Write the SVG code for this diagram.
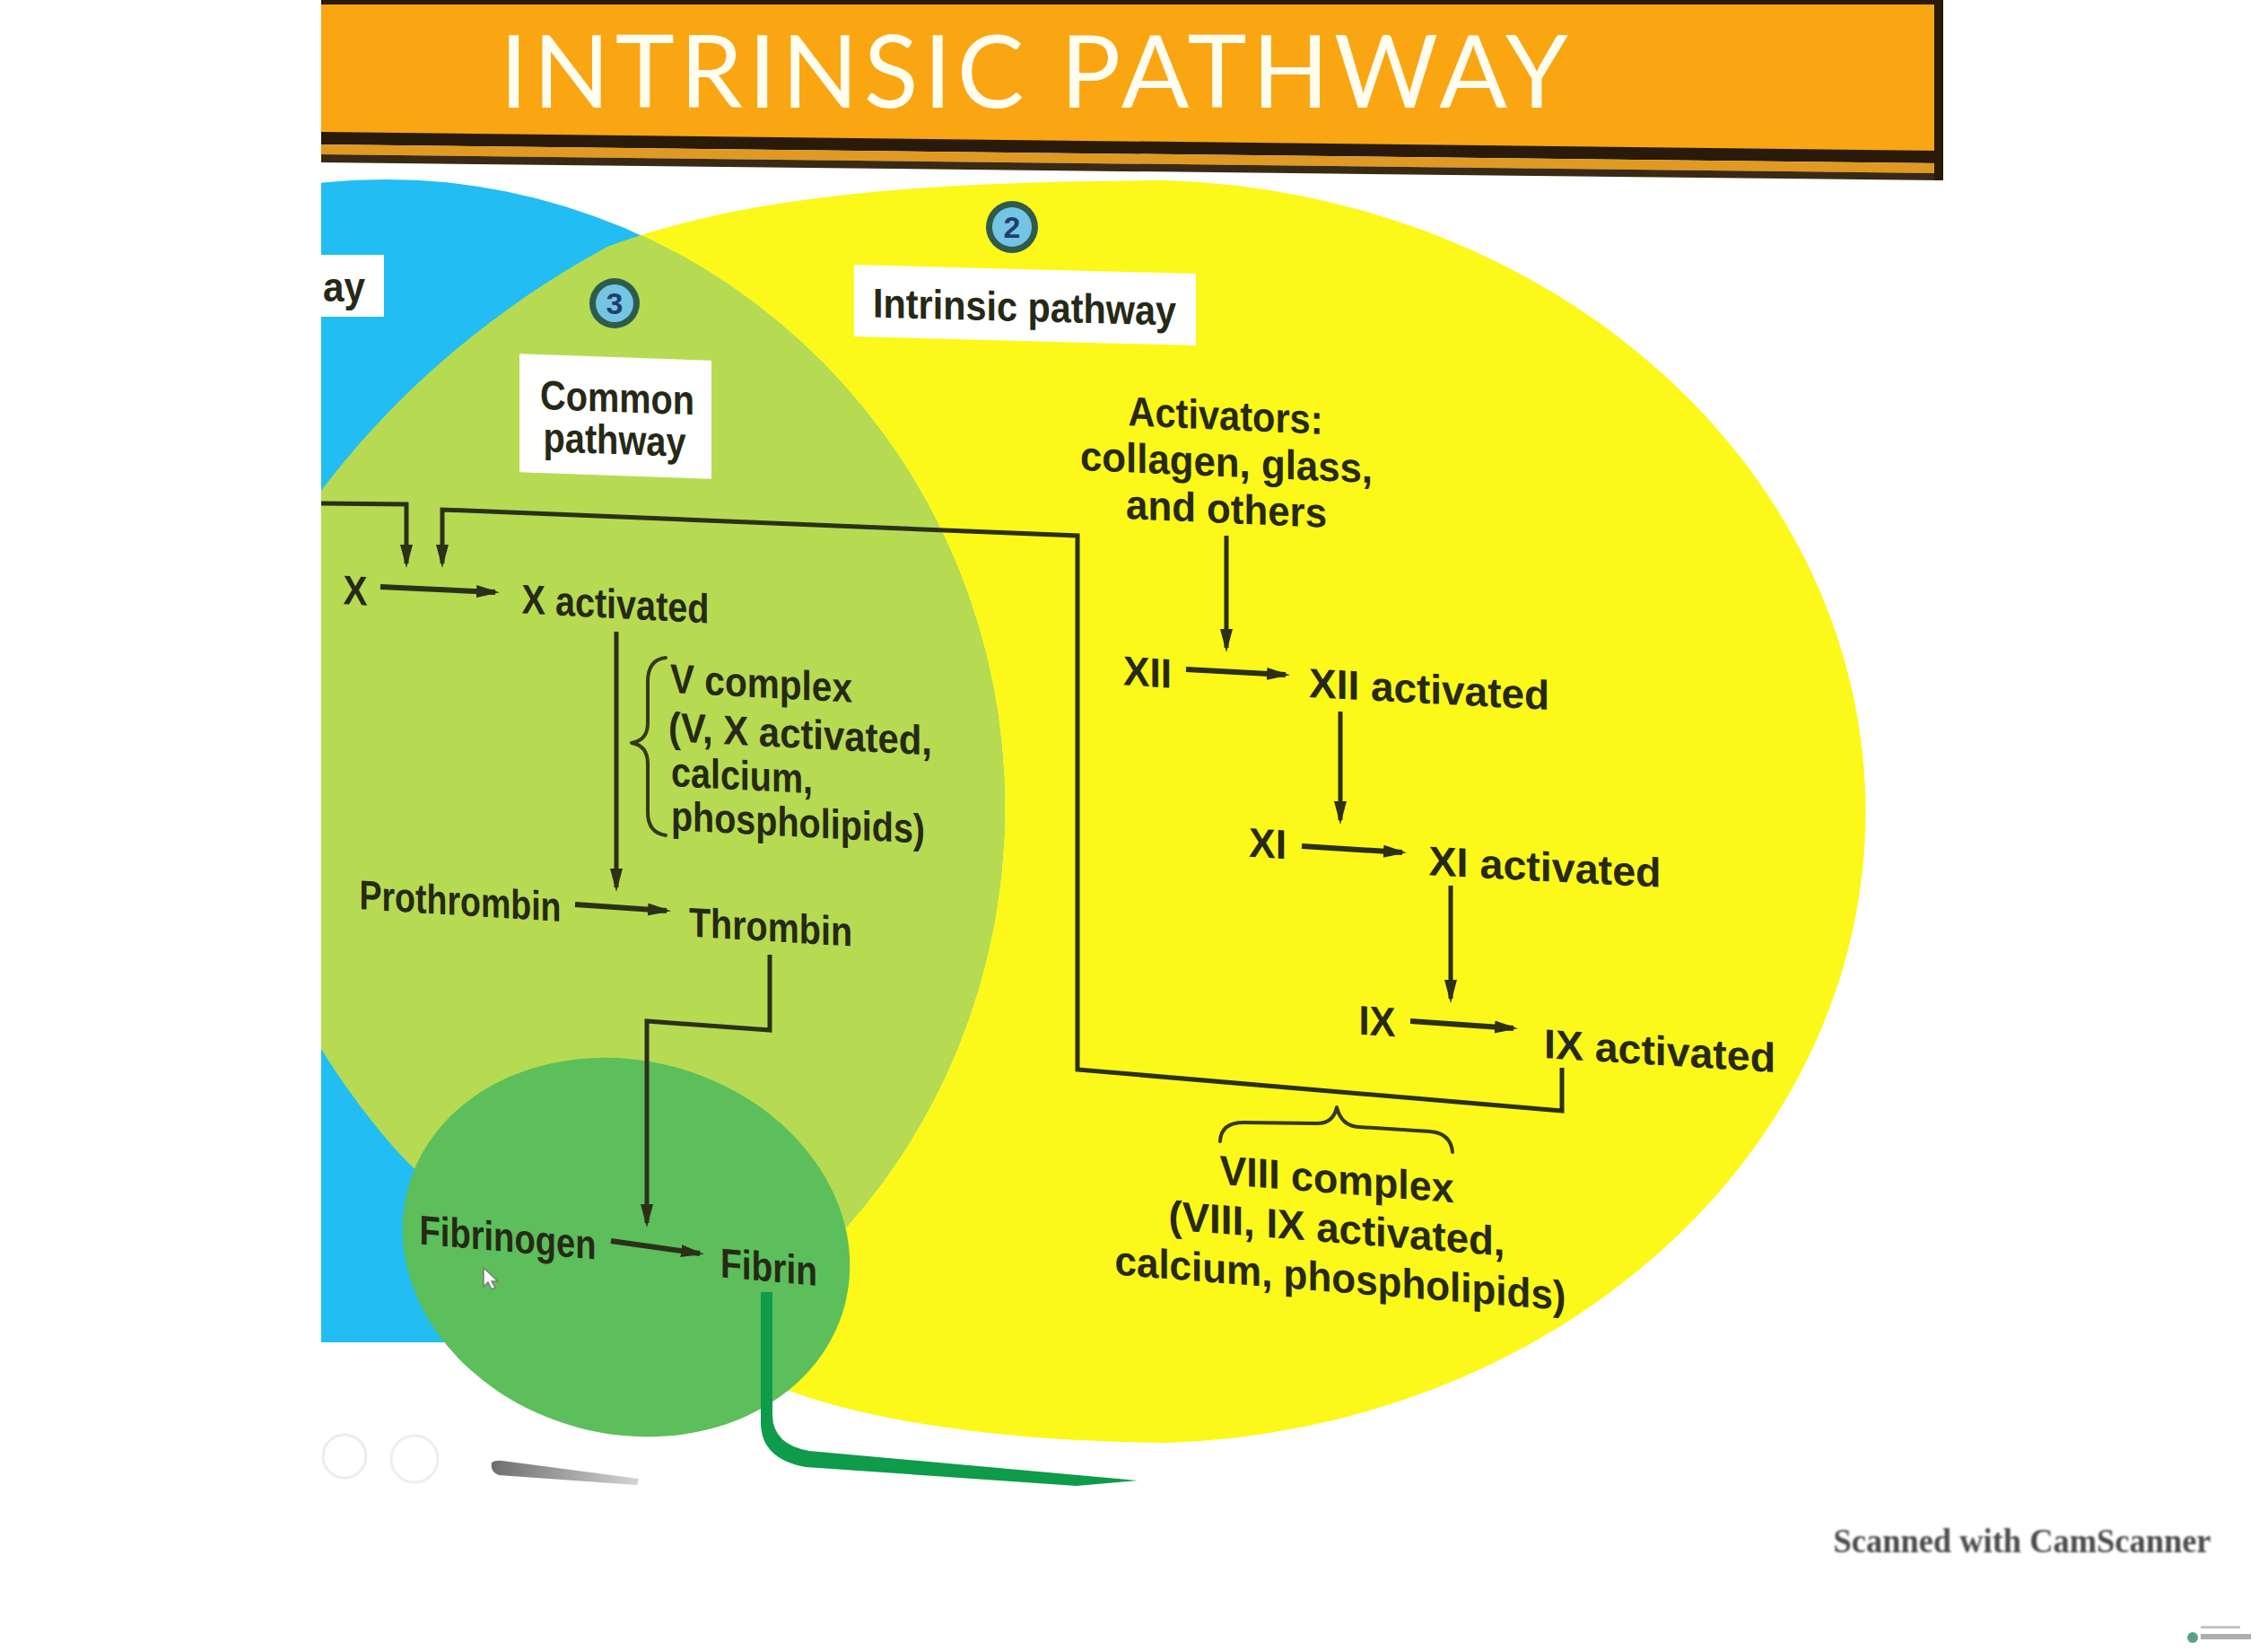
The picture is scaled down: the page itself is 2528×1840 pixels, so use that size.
<svg xmlns="http://www.w3.org/2000/svg" width="2528" height="1840" viewBox="0 0 2528 1840">
<defs>
<style>
.t{font-family:"Liberation Sans",Arial,Helvetica,sans-serif;font-weight:700;font-size:46px;fill:#262915}
.tm{text-anchor:middle}
.ln{fill:none;stroke:#2c3019;stroke-width:5;stroke-linejoin:miter;stroke-linecap:butt}
.rx{stroke-width:6}
.ar{marker-end:url(#ah)}
.box{fill:#ffffff}
.br{fill:none;stroke:#343a1e;stroke-width:4;stroke-linecap:round;stroke-linejoin:round}
.bo{fill:#2f5b4c}
.bi{fill:#74c5e4}
.bt{font-family:"Liberation Sans",Arial,sans-serif;font-weight:700;font-size:34px;fill:#1f3e70;text-anchor:middle}
.title{font-family:Lato,"Open Sans","Liberation Sans",sans-serif;font-weight:400;font-size:112px;fill:#fffdf0}
</style>
<marker id="ah" markerUnits="userSpaceOnUse" markerWidth="26" markerHeight="18" refX="21" refY="9" orient="auto"><path d="M0,2 L26,9 L0,16 Z" fill="#2c3019"/></marker>
<clipPath id="area"><rect x="358" y="0" width="2170" height="1840"/></clipPath>
<clipPath id="blueBottom"><rect x="358" y="0" width="2170" height="1496"/></clipPath>
<clipPath id="blueShape"><ellipse cx="430" cy="900" rx="690" ry="700"/></clipPath>
<path id="yel" d="M677,275 C820,222 1000,202 1300,201 A810,704 0 0 1 1300,1608 C1100,1606 960,1580 880,1550 C700,1470 520,1370 440,1280 C300,1120 220,900 250,750 C280,640 410,420 677,275 Z"/>
<linearGradient id="pen" x1="0" y1="0" x2="1" y2="0"><stop offset="0" stop-color="#6e6e6e"/><stop offset="1" stop-color="#d4d4d4"/></linearGradient>
<filter id="soft" x="-5%" y="-20%" width="110%" height="140%"><feGaussianBlur stdDeviation="1"/></filter>
</defs>
<rect width="2528" height="1840" fill="#ffffff"/>

<g id="regions" clip-path="url(#area)">
  <use href="#yel" fill="#fcf81a"/>
  <g clip-path="url(#blueBottom)">
    <ellipse cx="430" cy="900" rx="690" ry="700" fill="#22bdf2"/>
    <g clip-path="url(#blueShape)"><use href="#yel" fill="#b6db52"/></g>
  </g>
  <ellipse id="fibrin-zone" cx="698" cy="1390" rx="252" ry="208" transform="rotate(15 698 1390)" fill="#5cbf5b"/>
</g>

<g id="title-banner">
  <polygon points="358,0 2162,0 2162,170 358,148" fill="#f9a612"/>
  <polygon points="358,147 2162,168 2162,182 358,161" fill="#2a1a0a"/>
  <polygon points="358,161 2162,182 2162,193 358,172" fill="#e09a22"/>
  <polygon points="358,172 2162,193 2162,201 358,181" fill="#3a2a14"/>
  <rect x="358" y="0" width="1808" height="5" fill="#2a1a0a"/>
  <rect x="2156" y="0" width="10" height="201" fill="#2a1a0a"/>
  <text class="title" x="557" y="120" textLength="1191" lengthAdjust="spacing">INTRINSIC PATHWAY</text>
</g>

<g id="label-extrinsic">
  <rect class="box" x="358" y="284" width="70" height="69"/>
  <text class="t" x="360" y="336" textLength="47" lengthAdjust="spacingAndGlyphs">ay</text>
</g>

<g id="badge-3">
  <circle class="bo" cx="685" cy="338" r="28"/>
  <circle class="bi" cx="685" cy="338" r="21"/>
  <text class="bt" x="685" y="350">3</text>
</g>
<g id="badge-2">
  <circle class="bo" cx="1128" cy="253" r="29"/>
  <circle class="bi" cx="1128" cy="253" r="22"/>
  <text class="bt" x="1128" y="265">2</text>
</g>

<g id="label-intrinsic" transform="translate(1142,340) skewY(1.5)">
  <rect class="box" x="-190" y="-40" width="381" height="80"/>
  <text class="t tm" x="0" y="18" textLength="338" lengthAdjust="spacingAndGlyphs">Intrinsic pathway</text>
</g>

<g id="label-common" transform="translate(686,464) skewY(2)">
  <rect class="box" x="-107" y="-66" width="214" height="132"/>
  <text class="t tm" x="2" y="-5" textLength="172" lengthAdjust="spacingAndGlyphs">Common</text>
  <text class="t tm" x="-1" y="42" textLength="159" lengthAdjust="spacingAndGlyphs">pathway</text>
</g>

<g id="node-activators">
  <g transform="translate(1366,479) skewY(2.5)"><text class="t tm" textLength="217" lengthAdjust="spacingAndGlyphs">Activators:</text></g>
  <g transform="translate(1367,531) skewY(2.5)"><text class="t tm" textLength="326" lengthAdjust="spacingAndGlyphs">collagen, glass,</text></g>
  <g transform="translate(1367,583) skewY(2.5)"><text class="t tm" textLength="224" lengthAdjust="spacingAndGlyphs">and others</text></g>
</g>

<g id="node-xii" transform="translate(1279,765) skewY(3.5)"><text class="t tm" textLength="54" lengthAdjust="spacingAndGlyphs">XII</text></g>
<g id="node-xii-activated" transform="translate(1593,784) skewY(3)"><text class="t tm" textLength="268" lengthAdjust="spacingAndGlyphs">XII activated</text></g>
<g id="node-xi" transform="translate(1413,956) skewY(3.5)"><text class="t tm" textLength="42" lengthAdjust="spacingAndGlyphs">XI</text></g>
<g id="node-xi-activated" transform="translate(1722,982) skewY(3)"><text class="t tm" textLength="259" lengthAdjust="spacingAndGlyphs">XI activated</text></g>
<g id="node-ix" transform="translate(1535,1154) skewY(3.5)"><text class="t tm" textLength="41" lengthAdjust="spacingAndGlyphs">IX</text></g>
<g id="node-ix-activated" transform="translate(1850,1187) skewY(3.5)"><text class="t tm" textLength="258" lengthAdjust="spacingAndGlyphs">IX activated</text></g>

<g id="node-viii-complex">
  <path class="br" d="M1360,1272 Q1361,1251 1386,1251 L1466,1252 Q1486,1253 1490,1234 Q1495,1255 1515,1256 L1594,1261 Q1617,1263 1619,1284"/>
  <g transform="translate(1490,1330) skewY(4.5)">
    <text class="t tm" x="0" y="0" textLength="261" lengthAdjust="spacingAndGlyphs">VIII complex</text>
    <text class="t tm" x="0" y="55" textLength="375" lengthAdjust="spacingAndGlyphs">(VIII, IX activated,</text>
    <text class="t tm" x="4" y="110" textLength="503" lengthAdjust="spacingAndGlyphs">calcium, phospholipids)</text>
  </g>
</g>

<g id="node-x" transform="translate(396,674) skewY(3)"><text class="t tm" textLength="27" lengthAdjust="spacingAndGlyphs">X</text></g>
<g id="node-x-activated" transform="translate(686,689) skewY(3)"><text class="t tm" textLength="209" lengthAdjust="spacingAndGlyphs">X activated</text></g>

<g id="node-v-complex">
  <path class="br" d="M742,733 Q722,735 722,760 L722,806 Q722,825 704,828 Q722,831 722,851 L722,905 Q722,928 742,931"/>
  <g transform="translate(747,772) skewY(3)"><text class="t" textLength="203" lengthAdjust="spacingAndGlyphs">V complex</text></g>
  <g transform="translate(745,826) skewY(3)"><text class="t" textLength="294" lengthAdjust="spacingAndGlyphs">(V, X activated,</text></g>
  <g transform="translate(748,876) skewY(3)"><text class="t" textLength="158" lengthAdjust="spacingAndGlyphs">calcium,</text></g>
  <g transform="translate(748,925) skewY(3)"><text class="t" textLength="283" lengthAdjust="spacingAndGlyphs">phospholipids)</text></g>
</g>

<g id="node-prothrombin" transform="translate(513,1020) skewY(3.5)"><text class="t tm" textLength="225" lengthAdjust="spacingAndGlyphs">Prothrombin</text></g>
<g id="node-thrombin" transform="translate(859,1049) skewY(3.5)"><text class="t tm" textLength="182" lengthAdjust="spacingAndGlyphs">Thrombin</text></g>
<g id="node-fibrinogen" transform="translate(566,1395) skewY(5)"><text class="t tm" textLength="197" lengthAdjust="spacingAndGlyphs">Fibrinogen</text></g>
<g id="node-fibrin" transform="translate(857,1428) skewY(5)"><text class="t tm" textLength="108" lengthAdjust="spacingAndGlyphs">Fibrin</text></g>

<g id="connectors">
  <polyline class="ln ar" points="358,561 453,562 453,628"/>
  <polyline class="ln ar" points="1741,1190 1741,1238 1201,1192 1201,597 493,568 493,628"/>
  <line class="ln rx ar" x1="424" y1="654" x2="552" y2="660"/>
  <line class="ln ar" x1="687" y1="704" x2="687" y2="989"/>
  <line class="ln rx ar" x1="641" y1="1008" x2="743" y2="1015"/>
  <polyline class="ln ar" points="858,1064 858,1148 721,1138 721,1363"/>
  <line class="ln rx ar" x1="681" y1="1383" x2="780" y2="1397"/>
  <line class="ln ar" x1="1367" y1="597" x2="1367" y2="722"/>
  <line class="ln rx ar" x1="1322" y1="746" x2="1433" y2="752"/>
  <line class="ln ar" x1="1494" y1="793" x2="1494" y2="914"/>
  <line class="ln rx ar" x1="1451" y1="943" x2="1563" y2="950"/>
  <line class="ln ar" x1="1617" y1="987" x2="1617" y2="1113"/>
  <line class="ln rx ar" x1="1572" y1="1138" x2="1687" y2="1146"/>
  <path d="M848,1440 L861,1440 L861,1578 Q862,1610 902,1617 L1268,1650 L1200,1656 L898,1635 Q848,1626 848,1585 Z" fill="#0e9b4a"/>
</g>

<g id="marks">
  <circle cx="384" cy="1623" r="24" fill="none" stroke="#ececec" stroke-width="3"/>
  <circle cx="462" cy="1626" r="26" fill="none" stroke="#eeeeee" stroke-width="3"/>
  <path d="M548,1630 Q552,1627 560,1628 L712,1648 L710,1655 L556,1644 Q546,1640 548,1630 Z" fill="url(#pen)"/>
  <polygon points="539,1413 539,1434 544,1429 548,1437 552,1435 548,1428 555,1428" fill="#ffffff" stroke="#7a7a7a" stroke-width="1.5"/>
</g>

<g id="footer">
  <text x="2254" y="1730" text-anchor="middle" font-family="'Liberation Serif','Times New Roman',serif" font-weight="700" font-size="38" fill="#4c4c4c" textLength="421" lengthAdjust="spacingAndGlyphs" filter="url(#soft)">Scanned with CamScanner</text>
  <circle cx="2444" cy="1825" r="6" fill="#2e8b6e" opacity="0.8"/>
  <rect x="2453" y="1812" width="44" height="3" fill="#c4c4c4"/>
  <rect x="2453" y="1821" width="56" height="6" fill="#9a9a9a" opacity="0.8"/>
</g>
</svg>
